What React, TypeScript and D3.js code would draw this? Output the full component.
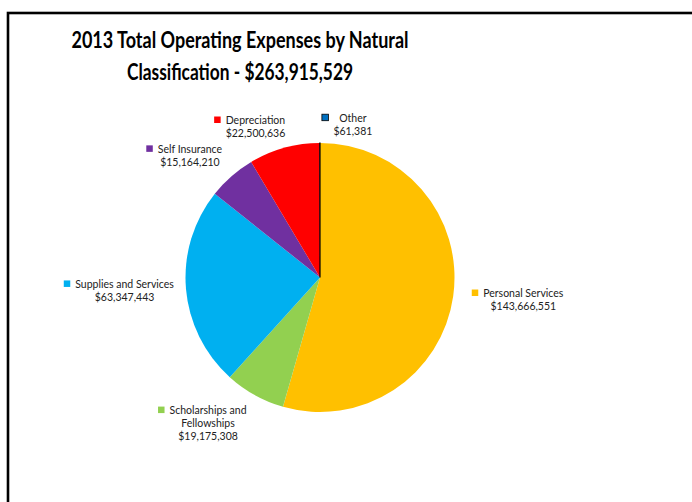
import { useEffect, useRef } from 'react'
import * as d3 from 'd3'

const categories = [
  'Personal Services',
  'Scholarships and Fellowships',
  'Supplies and Services',
  'Self Insurance',
  'Depreciation',
  'Other',
]
const amounts = [143666551, 19175308, 63347443, 15164210, 22500636, 61381]
const colors = ['#FFC000', '#92D050', '#00B0F0', '#7030A0', '#FF0000', '#0070C0']
// how the category names wrap in the labels
const labelLines = [
  ['Personal Services'],
  ['Scholarships and', 'Fellowships'],
  ['Supplies and Services'],
  ['Self Insurance'],
  ['Depreciation'],
  ['Other'],
]
const titleLines = ['2013 Total Operating Expenses by Natural', 'Classification - $263,915,529']

// layout
const W = 692
const H = 502
const CX = 320
const CY = 277.5
const R = 134.5
const LABEL_R = 175
// nudges from the outer label arc (Excel "best fit" placement)
const labelNudge: [number, number][] = [
  [30, -2],
  [-27, -7],
  [-21, -1],
  [-15, 10],
  [-18, 18],
  [33, 22],
]

const money = (v: number) => '$' + d3.format(',')(v)

export default function App() {
  const svgRef = useRef<SVGSVGElement>(null)

  useEffect(() => {
    if (!svgRef.current) return
    const svg = d3.select(svgRef.current)
    svg.selectAll('*').remove()

    // chart frame
    svg
      .append('rect')
      .attr('x', 8)
      .attr('y', 13)
      .attr('width', W + 20)
      .attr('height', H + 20)
      .attr('fill', 'none')
      .attr('stroke', '#000')
      .attr('stroke-width', 2.6)

    // title
    const title = svg
      .append('text')
      .attr('font-family', 'Lato, "Noto Sans", sans-serif')
      .attr('font-weight', 'bold')
      .attr('font-size', 22)
      .attr('fill', '#000')
      .attr('text-anchor', 'middle')
    const titleWidths = [337, 226]
    titleLines.forEach((t, i) => {
      title
        .append('tspan')
        .attr('x', 240)
        .attr('y', 47.5 + i * 32)
        .attr('textLength', titleWidths[i])
        .attr('lengthAdjust', 'spacingAndGlyphs')
        .text(t)
    })

    const data = categories.map((c, i) => ({ name: c, value: amounts[i], color: colors[i], i }))
    type D = (typeof data)[number]

    const pie = d3
      .pie<D>()
      .value((d) => d.value)
      .sort(null)
      .startAngle(0)
      .endAngle(2 * Math.PI)
    const arcs = pie(data)
    const arc = d3.arc<d3.PieArcDatum<D>>().innerRadius(0).outerRadius(R)
    const labelArc = d3.arc<d3.PieArcDatum<D>>().innerRadius(LABEL_R).outerRadius(LABEL_R)

    const g = svg.append('g').attr('transform', `translate(${CX},${CY})`)
    g.selectAll('path')
      .data(arcs)
      .enter()
      .append('path')
      .attr('d', arc)
      .attr('fill', (d) => d.data.color)
      .attr('stroke', (d) => (d.data.name === 'Other' ? '#000' : 'none'))
      .attr('stroke-width', 1.2)

    // data labels with legend key
    const lineH = 13.2
    arcs.forEach((a) => {
      const [px, py] = labelArc.centroid(a)
      const [nx, ny] = labelNudge[a.data.i]
      const lines = [...labelLines[a.data.i], money(a.data.value)]
      const x = CX + px + nx
      const yc = CY + py + ny
      const y0 = yc - ((lines.length - 1) * lineH) / 2 + 3.8
      const lg = svg.append('g')
      const txt = lg
        .append('text')
        .attr('font-family', 'Lato, "Noto Sans", sans-serif')
        .attr('font-size', 10.5)
        .attr('fill', '#222')
        .attr('text-anchor', 'middle')
      lines.forEach((l, j) => {
        txt
          .append('tspan')
          .attr('x', x)
          .attr('y', y0 + j * lineH)
          .text(l)
      })
      const tspans = txt.selectAll<SVGTSpanElement, unknown>('tspan').nodes()
      const widest = d3.max(tspans, (n) => n.getComputedTextLength()) || 0
      const left = x - widest / 2
      lg.append('rect')
        .attr('x', left - 11.5)
        .attr('y', y0 - 7.5)
        .attr('width', 6.5)
        .attr('height', 6.5)
        .attr('fill', a.data.color)
        .attr('stroke', a.data.name === 'Other' ? '#000' : 'none')
        .attr('stroke-width', 0.8)
    })
  }, [])

  return (
    <svg
      ref={svgRef}
      width={W}
      height={H}
      style={{ position: 'absolute', left: 0, top: 0, background: '#fff' }}
    />
  )
}
